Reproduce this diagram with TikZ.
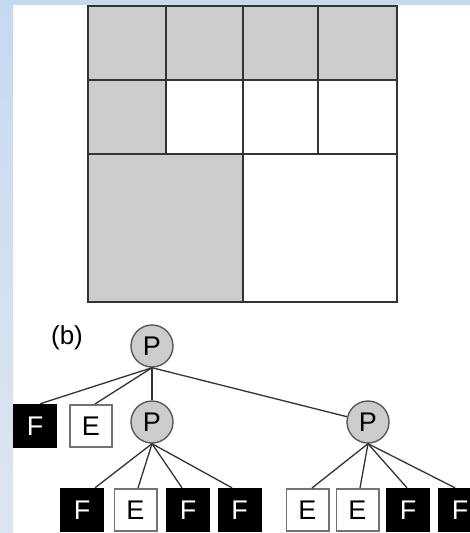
\documentclass[tikz,border=0pt]{standalone}
\usepackage{fontspec}
\setmainfont{Liberation Sans}
\definecolor{bandtop}{HTML}{C6D9F1}
\definecolor{bandbot}{HTML}{DEE5F0}
\definecolor{cellgray}{HTML}{CCCCCC}
\begin{document}
\begin{tikzpicture}[x=1pt,y=-1pt,
  letter/.style={font=\fontsize{27}{30}\selectfont},
  gridline/.style={draw=black!80,line width=2.2pt},
  pnode/.style={circle,fill=cellgray,draw=black!65,line width=1.4pt,
    minimum size=42pt,inner sep=0pt,letter},
  fbox/.style={rectangle,fill=black,text=white,minimum size=44pt,
    inner sep=0pt,letter},
  ebox/.style={rectangle,fill=white,draw=black!55,line width=1.6pt,
    minimum size=42.4pt,inner sep=0pt,letter},
  link/.style={draw=black!80,line width=1.3pt}]
\useasboundingbox (0,0) rectangle (470,533);
\clip (0,0) rectangle (470,533);

% page background with the blue frame bands
\fill[white] (0,0) rectangle (470,533);
\fill[bandtop] (0,0) rectangle (470,5);
\shade[top color=bandtop,bottom color=bandbot] (0,0) rectangle (13,533);

% (a) quadtree subdivision of the square
\fill[cellgray] (88,6) rectangle (397,80);
\fill[cellgray] (88,80) rectangle (166,154);
\fill[cellgray] (88,154) rectangle (243,302);
\draw[gridline] (88,80) -- (397,80);
\draw[gridline] (88,154) -- (397,154);
\draw[gridline] (166,6) -- (166,154);
\draw[gridline] (243,6) -- (243,302);
\draw[gridline] (318,6) -- (318,154);
\draw[gridline] (88,6) rectangle (397,302);

% (b) the corresponding tree
\node[font=\fontsize{26}{30}\selectfont] (lab) at (67,338) {(b)};

\node[pnode] (p1) at (152,346) {P};
\node[fbox]  (f1) at (35,426)  {F};
\node[ebox]  (e1) at (91,426)  {E};
\node[pnode] (p2) at (152,422) {P};
\node[pnode] (p3) at (368,422) {P};

\node[fbox] (c1) at (82,510)    {F};
\node[ebox] (c2) at (135.5,510) {E};
\node[fbox] (c3) at (188,510)   {F};
\node[fbox] (c4) at (239.5,510) {F};

\node[ebox] (d1) at (307.5,510) {E};
\node[ebox] (d2) at (357.5,510) {E};
\node[fbox] (d3) at (408,510)   {F};
\node[fbox] (d4) at (460,510)   {F};

% tree edges
\draw[link] (p1.south) -- ([xshift=5pt]f1.north);
\draw[link] (p1.south) -- ([xshift=4pt]e1.north);
\draw[link] (p1.south) -- (p2.north);
\draw[link] (p1.south) -- (p3);

\draw[link] (p2.south) -- ([xshift=13pt]c1.north);
\draw[link] (p2.south) -- ([xshift=2.5pt]c2.north);
\draw[link] (p2.south) -- ([xshift=-6pt]c3.north);
\draw[link] (p2.south) -- ([xshift=-7.5pt]c4.north);

\draw[link] (p3.south) -- ([xshift=4.5pt]d1.north);
\draw[link] (p3.south) -- ([xshift=2.5pt]d2.north);
\draw[link] (p3.south) -- ([xshift=-1pt]d3.north);
\draw[link] (p3.south) -- ([xshift=-5pt]d4.north);
\end{tikzpicture}
\end{document}
